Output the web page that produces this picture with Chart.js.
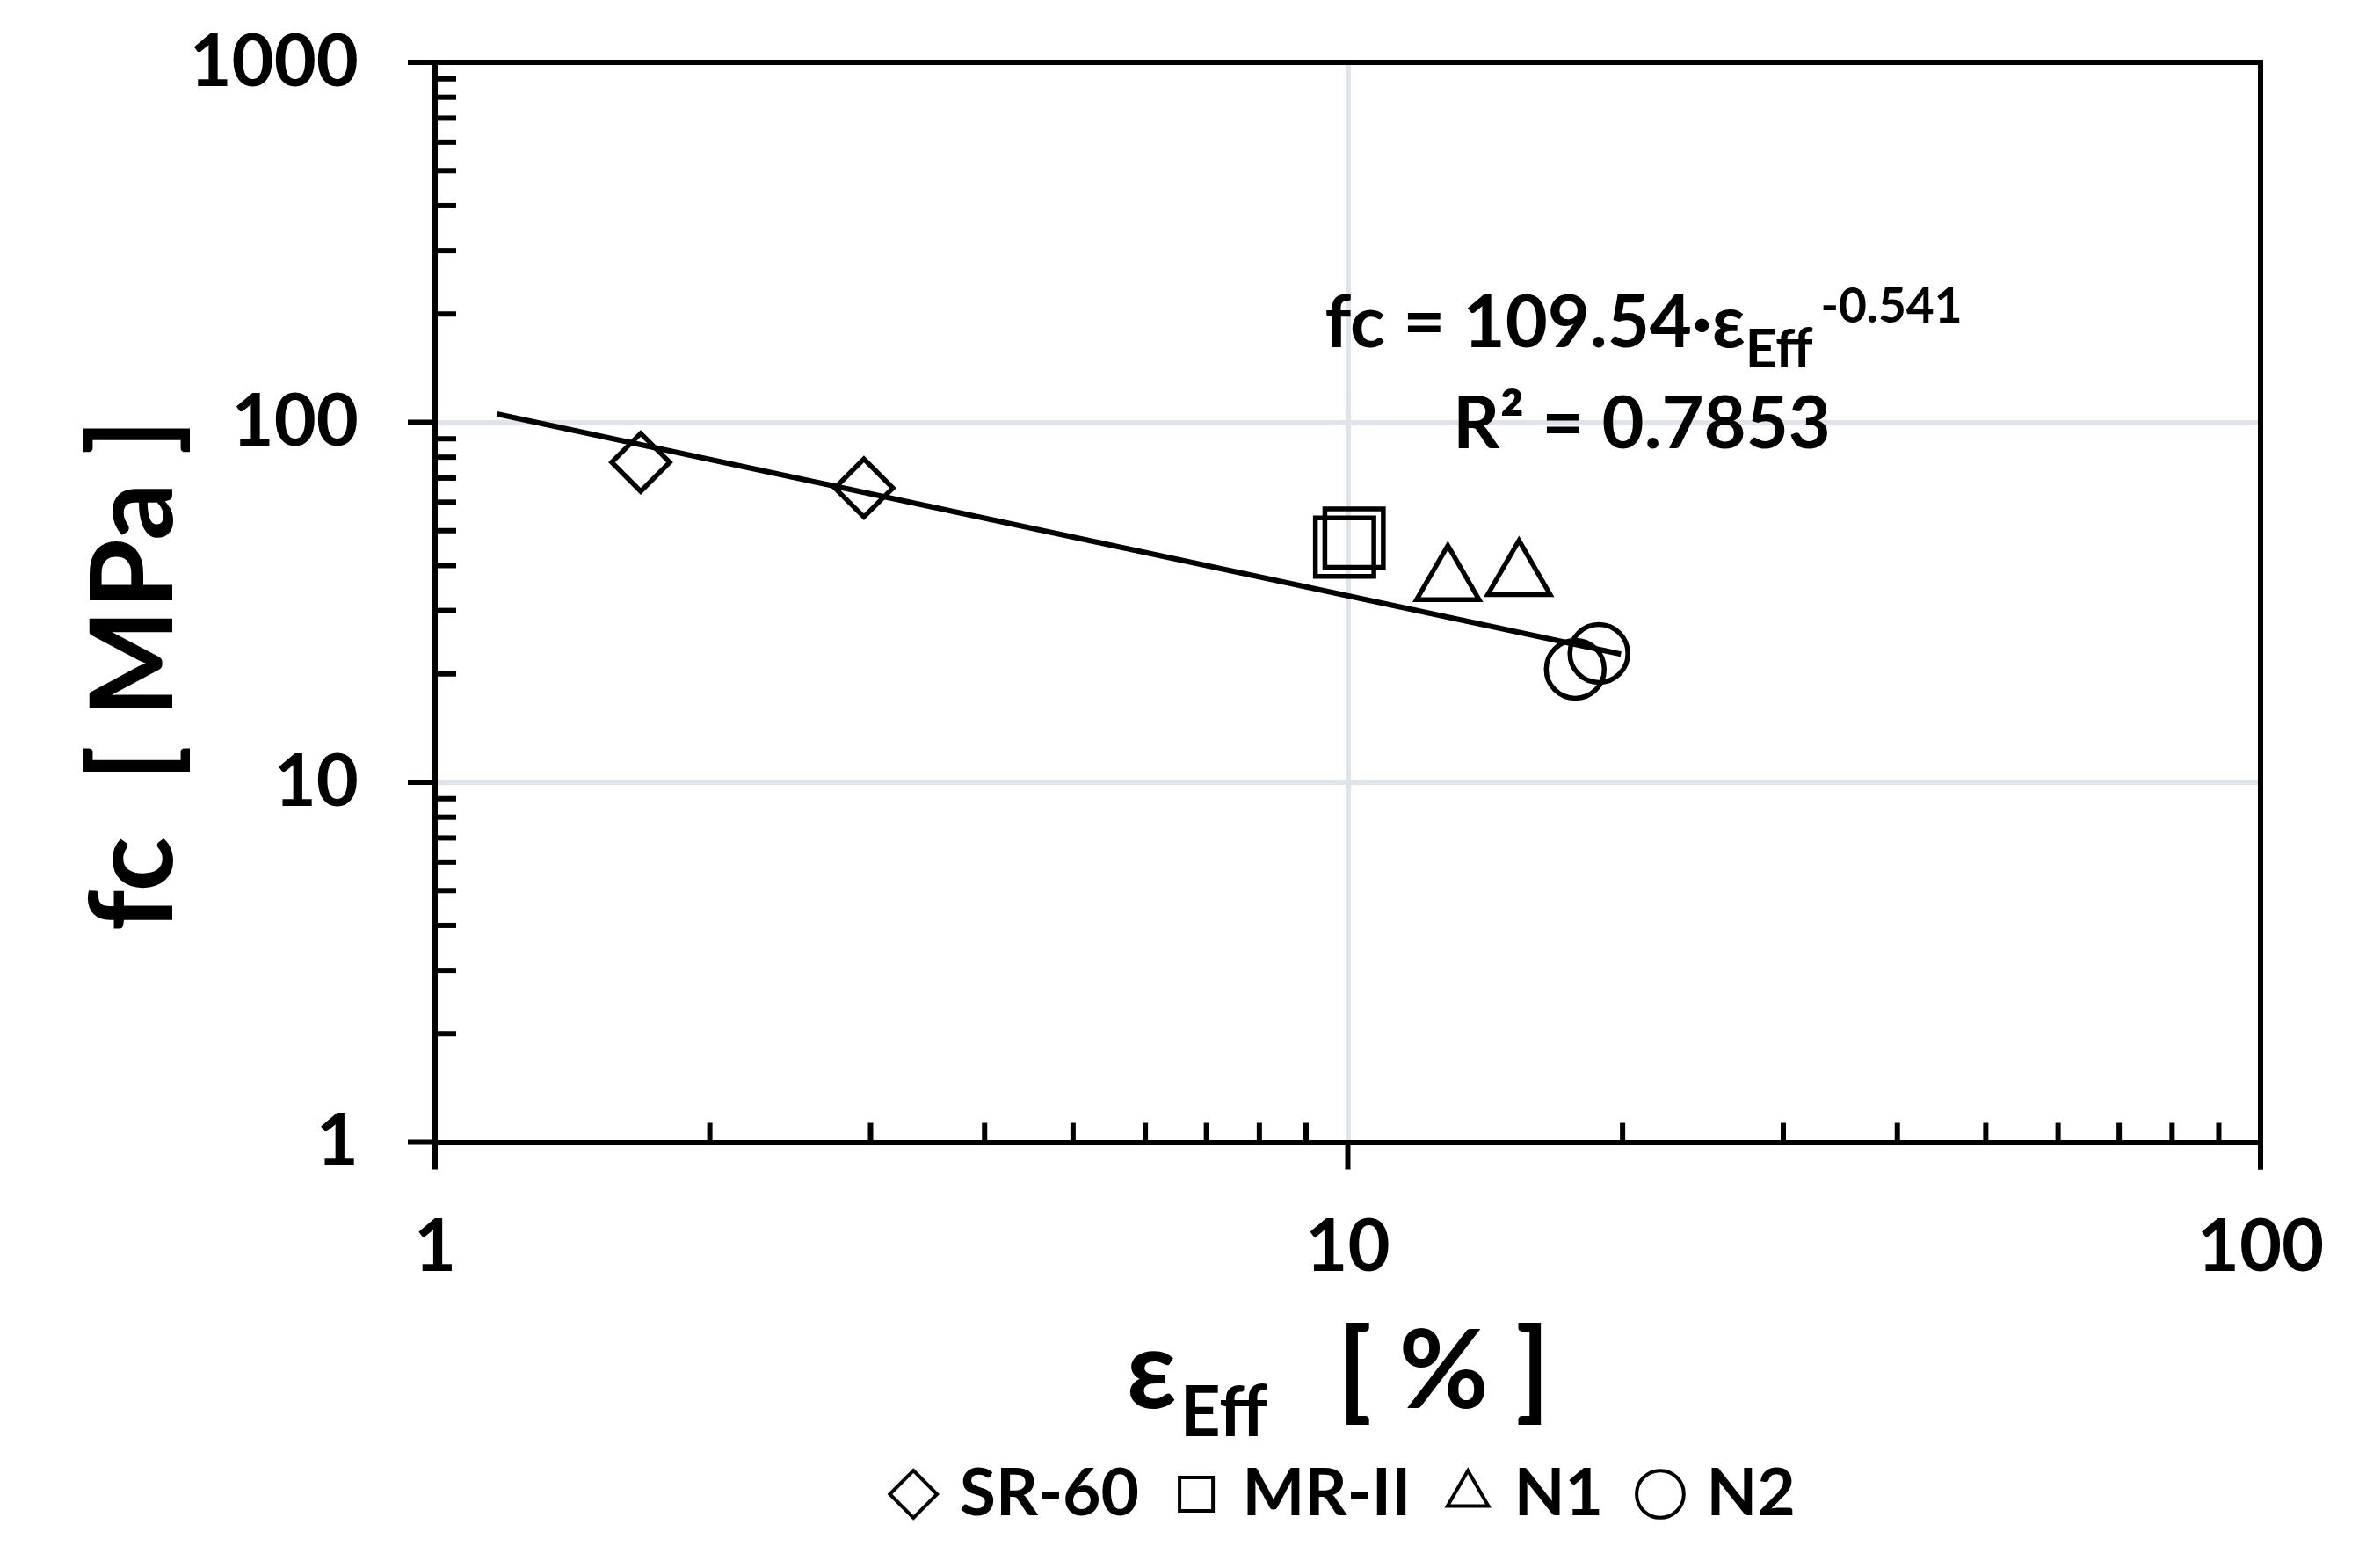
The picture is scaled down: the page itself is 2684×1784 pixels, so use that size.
<!DOCTYPE html>
<html><head><meta charset="utf-8">
<script src="https://cdn.jsdelivr.net/npm/chart.js@4.4.1/dist/chart.umd.min.js"></script>
<style>html,body{margin:0;padding:0;background:#fff;} canvas{display:block;}</style>
</head><body>
<canvas id="c" width="2684" height="1784"></canvas>
<script>
// ---- data ----
const seriesNames = ['SR-60', 'MR-II', 'N1', 'N2'];
const sr60X = [1.68, 2.95];   const sr60Y = [77.4, 65.7];
const mr2X  = [9.92, 10.16];  const mr2Y  = [45.0, 47.7];
const n1X   = [12.87, 15.40]; const n1Y   = [36.1, 37.3];
const n2X   = [17.75, 18.84]; const n2Y   = [20.6, 22.8];
const trendX = [1.169, 19.92]; const trendY = [105.5, 22.7];
const xTickLabels = [1, 10, 100];
const yTickLabels = [1, 10, 100, 1000];
const eqMain = 'fc = 109.54·ε', eqSub = 'Eff', eqSup = '-0.541';
const r2Text = 'R² = 0.7853';
const xTitleParts = ['ε', 'Eff', '[ % ]'];
const yTitleText = 'fc  [ MPa ]';

const FONT = 'Lato, "DejaVu Sans", sans-serif';
const pts = (xs, ys) => xs.map((x, i) => ({x: x, y: ys[i]}));
const isPow10 = v => Math.abs(Math.log10(v) - Math.round(Math.log10(v))) < 1e-9;
const CLEAR = 'rgba(0,0,0,0)';

function seriesDs(label, xs, ys, style, r) {
  return {label, data: pts(xs, ys), pointStyle: style, pointRadius: r, pointHoverRadius: r,
    borderColor: '#000', backgroundColor: CLEAR, pointBorderColor: '#000',
    pointBackgroundColor: CLEAR, pointBorderWidth: 5.5, borderWidth: 5.5, showLine: false};
}

const frame = {
  id: 'frame',
  afterDraw(chart) {
    const ctx = chart.ctx, a = chart.chartArea, xs = chart.scales.x, ys = chart.scales.y;
    ctx.save();
    ctx.strokeStyle = '#000'; ctx.lineWidth = 6; ctx.lineCap = 'butt';
    const line = (x1, y1, x2, y2) => { ctx.beginPath(); ctx.moveTo(x1, y1); ctx.lineTo(x2, y2); ctx.stroke(); };
    line(a.left - 31, a.top, a.right + 3, a.top);
    line(a.right, a.top - 3, a.right, a.bottom + 31);
    [1, 10, 100].forEach(d => { for (let m = 2; m <= 9; m++) { const p = ys.getPixelForValue(m * d); line(a.left, p, a.left + 24, p); } });
    yTickLabels.forEach(v => { const p = ys.getPixelForValue(v); line(a.left - 31, p, a.left, p); });
    [1, 10].forEach(d => { for (let m = 2; m <= 9; m++) { const p = xs.getPixelForValue(m * d); line(p, a.bottom, p, a.bottom - 22); } });
    xTickLabels.forEach(v => { const p = xs.getPixelForValue(v); line(p, a.bottom, p, a.bottom + 31); });

    ctx.fillStyle = '#000'; ctx.textBaseline = 'alphabetic'; ctx.textAlign = 'left';
    const f = s => `bold ${s}px ${FONT}`;
    const w = (t, s) => { ctx.font = f(s); return ctx.measureText(t).width; };
    // equation
    const mainS = 83, subS = 62, supS = 55;
    const total = w(eqMain, mainS) + w(eqSub, subS) + 9 + w(eqSup, supS);
    let x = 1870 - total / 2; const base = 395;
    ctx.font = f(mainS); ctx.fillText(eqMain, x, base); x += w(eqMain, mainS);
    ctx.font = f(subS); ctx.fillText(eqSub, x, base + 23); x += w(eqSub, subS) + 9;
    ctx.font = f(supS); ctx.fillText(eqSup, x, base - 28);
    ctx.font = f(mainS); ctx.textAlign = 'center'; ctx.fillText(r2Text, 1868, 510);
    // x-axis title
    ctx.textAlign = 'left';
    const tS = 125, tSub = 80, gap = 80;
    const tw = w(xTitleParts[0], tS) + 4 + w(xTitleParts[1], tSub) + gap + w(xTitleParts[2], tS);
    let tx = (a.left + a.right) / 2 - 11 - tw / 2; const tb = 1602;
    ctx.font = f(tS); ctx.fillText(xTitleParts[0], tx, tb); tx += w(xTitleParts[0], tS) + 4;
    ctx.font = f(tSub); ctx.fillText(xTitleParts[1], tx, tb + 32); tx += w(xTitleParts[1], tSub) + gap;
    ctx.font = f(tS); ctx.fillText(xTitleParts[2], tx, tb);
    // y-axis title (rotated)
    ctx.save();
    ctx.translate(196, 768); ctx.rotate(-Math.PI / 2);
    ctx.font = f(130); ctx.textAlign = 'center'; ctx.fillText(yTitleText, 0, 0);
    ctx.restore();
    ctx.restore();
  }
};

Chart.defaults.font.family = FONT;
Chart.defaults.font.weight = 'bold';
Chart.defaults.color = '#000';

new Chart(document.getElementById('c'), {
  type: 'scatter',
  data: {
    datasets: [
      seriesDs(seriesNames[0], sr60X, sr60Y, 'rectRot', 33),
      seriesDs(seriesNames[1], mr2X, mr2Y, 'rect', 47),
      seriesDs(seriesNames[2], n1X, n1Y, 'triangle', 41),
      seriesDs(seriesNames[3], n2X, n2Y, 'circle', 33),
      {label: 'Power fit', type: 'line', data: pts(trendX, trendY), borderColor: '#000',
       borderWidth: 6, pointRadius: 0, pointHoverRadius: 0, fill: false, showLine: true, order: 10}
    ]
  },
  options: {
    responsive: false, devicePixelRatio: 1, animation: false, events: [],
    layout: {padding: {left: 0, top: 71, right: 112, bottom: 36.5}},
    scales: {
      x: {
        type: 'logarithmic', min: 1, max: 100,
        afterFit: s => { s.height = 313; },
        border: {display: true, color: '#000', width: 6},
        grid: {drawTicks: true, tickLength: 70, tickColor: CLEAR, lineWidth: 6,
               color: c => (c.tick && isPow10(c.tick.value) && c.tick.value !== 1 && c.tick.value !== 100) ? '#dfe3ea' : CLEAR},
        ticks: {autoSkip: false, maxRotation: 0, padding: 0, font: {size: 83, weight: 'bold', family: FONT}, color: '#000',
                callback: v => xTickLabels.includes(v) ? String(v) : ''}
      },
      y: {
        type: 'logarithmic', min: 1, max: 1000,
        afterFit: s => { s.width = 495; },
        border: {display: true, color: '#000', width: 6},
        grid: {drawTicks: true, tickLength: 87, tickColor: CLEAR, lineWidth: 6,
               color: c => (c.tick && isPow10(c.tick.value) && c.tick.value !== 1 && c.tick.value !== 1000) ? '#dfe3ea' : CLEAR},
        ticks: {autoSkip: false, padding: 0, font: {size: 83, weight: 'bold', family: FONT}, color: '#000',
                callback: v => yTickLabels.includes(v) ? String(v) : ''},
        title: {display: false, text: yTitleText}
      }
    },
    plugins: {
      tooltip: {enabled: false},
      legend: {
        position: 'bottom', fullSize: false,
        labels: {
          font: {size: 75, weight: 'bold', family: FONT}, color: '#000',
          usePointStyle: true, boxWidth: 30, boxHeight: 38, padding: 50,
          generateLabels(chart) {
            const items = Chart.defaults.plugins.legend.labels.generateLabels(chart);
            return items.filter(i => seriesNames.includes(i.text))
                        .map(i => Object.assign(i, {lineWidth: 4, fillStyle: CLEAR, strokeStyle: '#000'}));
          }
        }
      }
    }
  },
  plugins: [frame]
});
</script>
</body></html>
